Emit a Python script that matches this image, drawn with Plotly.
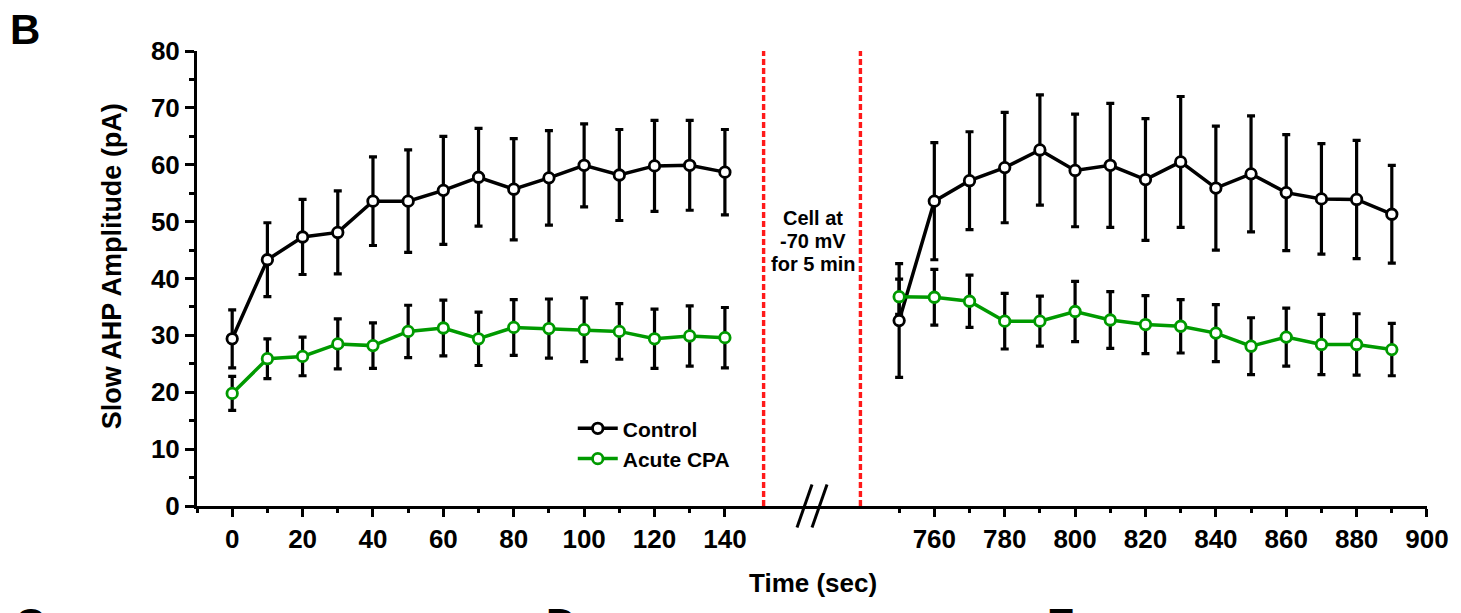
import plotly.graph_objects as go

# ---------------- data ----------------
t_left = [0, 10, 20, 30, 40, 50, 60, 70, 80, 90, 100, 110, 120, 130, 140]
ctrl_left = [29.4, 43.3, 47.3, 48.1, 53.6, 53.6, 55.5, 57.8, 55.7, 57.7, 59.9, 58.2, 59.8, 59.9, 58.7]
ctrl_left_err = [5.1, 6.5, 6.6, 7.3, 7.8, 9.0, 9.5, 8.6, 8.9, 8.3, 7.3, 8.0, 8.0, 7.9, 7.5]
cpa_left = [19.8, 25.9, 26.3, 28.5, 28.2, 30.7, 31.3, 29.4, 31.4, 31.2, 31.0, 30.7, 29.4, 29.9, 29.6]
cpa_left_err = [3.0, 3.5, 3.4, 4.4, 4.0, 4.6, 4.9, 4.7, 4.9, 5.2, 5.6, 4.9, 5.2, 5.3, 5.3]

t_right = [750, 760, 770, 780, 790, 800, 810, 820, 830, 840, 850, 860, 870, 880, 890]
ctrl_right = [32.6, 53.6, 57.2, 59.5, 62.6, 59.0, 59.9, 57.4, 60.5, 55.9, 58.4, 55.1, 54.0, 53.9, 51.3]
ctrl_right_err = [10.0, 10.3, 8.6, 9.7, 9.7, 9.9, 10.9, 10.7, 11.5, 10.9, 10.2, 10.2, 9.7, 10.4, 8.6]
cpa_right = [36.8, 36.7, 36.0, 32.5, 32.5, 34.2, 32.7, 31.9, 31.6, 30.4, 28.1, 29.7, 28.4, 28.4, 27.5]
cpa_right_err = [3.1, 4.9, 4.6, 4.9, 4.4, 5.3, 5.0, 5.1, 4.7, 5.0, 5.0, 5.1, 5.3, 5.4, 4.6]

x_ticks_left = [0, 20, 40, 60, 80, 100, 120, 140]
x_minor_left = [-10, 10, 30, 50, 70, 90, 110, 130]
x_ticks_right = [760, 780, 800, 820, 840, 860, 880, 900]
x_minor_right = [750, 770, 790, 810, 830, 850, 870, 890]
y_ticks = [0, 10, 20, 30, 40, 50, 60, 70, 80]

series_names = ["Control", "Acute CPA"]
hold_start = 151   # left red line (sec)
hold_end = 739     # right red line (sec)
hold_label = ["Cell at", "-70 mV", "for 5 min"]

# ---------------- style ----------------
FONT = "Liberation Sans, Arial, sans-serif"
BLACK = "#000000"
GREEN = "#009A00"
RED = "#FF1A1A"

fig = go.Figure()


def add_series(x, y, err, color, name, xaxis, show):
    fig.add_trace(go.Scatter(
        x=x, y=y, xaxis=xaxis, yaxis="y",
        mode="lines+markers", name=name, legendgroup=name, showlegend=show,
        line=dict(color=color, width=3.5),
        marker=dict(symbol="circle", size=10.5, color="white",
                    line=dict(color=color, width=2.8)),
        error_y=dict(type="data", array=err, visible=True, color=BLACK,
                     thickness=3.2, width=4),
        cliponaxis=False,
    ))


add_series(t_left, ctrl_left, ctrl_left_err, BLACK, series_names[0], "x", True)
add_series(t_left, cpa_left, cpa_left_err, GREEN, series_names[1], "x", True)
add_series(t_right, ctrl_right, ctrl_right_err, BLACK, series_names[0], "x2", False)
add_series(t_right, cpa_right, cpa_right_err, GREEN, series_names[1], "x2", False)

BREAK = 0.4992
tickfont = dict(family=FONT, size=26, color=BLACK, weight="bold")

common_x = dict(showline=True, linecolor=BLACK, linewidth=3, showgrid=False,
                zeroline=False, ticks="outside", ticklen=8, tickwidth=3,
                tickcolor=BLACK, tickfont=tickfont, anchor="y",
                fixedrange=True)

fig.update_layout(
    width=1461, height=613,
    margin=dict(l=197, r=32, t=51, b=107),
    paper_bgcolor="white", plot_bgcolor="white",
    xaxis=dict(domain=[0, BREAK], range=[-10, 164.47], tickmode="array",
               tickvals=x_ticks_left,
               minor=dict(tickmode="array", tickvals=x_minor_left, ticks="outside",
                          ticklen=4, tickwidth=3, tickcolor=BLACK),
               **common_x),
    xaxis2=dict(domain=[BREAK, 1], range=[724.96, 900], tickmode="array",
                tickvals=x_ticks_right,
                minor=dict(tickmode="array", tickvals=x_minor_right, ticks="outside",
                           ticklen=4, tickwidth=3, tickcolor=BLACK),
                **common_x),
    yaxis=dict(range=[0, 80], tickmode="array", tickvals=y_ticks,
               showline=True, linecolor=BLACK, linewidth=3, showgrid=False,
               zeroline=False, ticks="outside", ticklen=9, tickwidth=3,
               tickcolor=BLACK, tickfont=tickfont, anchor="x",
               minor=dict(dtick=5, ticks="outside", ticklen=5, tickwidth=3,
                          tickcolor=BLACK),
               fixedrange=True),
    showlegend=True,
    legend=dict(x=0.3055, y=0.215, xanchor="left", yanchor="top",
                bgcolor="rgba(0,0,0,0)", borderwidth=0,
                font=dict(family=FONT, size=21, color=BLACK, weight="bold"),
                tracegroupgap=0, itemwidth=40),
)

# red dashed lines marking the hold period
for xref, xv in (("x", hold_start), ("x2", hold_end)):
    fig.add_shape(type="line", xref=xref, yref="y", x0=xv, x1=xv, y0=0, y1=80,
                  line=dict(color=RED, width=3.4, dash="6px,3px"))

# axis break marks "//"
for dx in (-14, 1):
    fig.add_shape(type="line", xref="paper", yref="paper",
                  xsizemode="pixel", ysizemode="pixel", xanchor=BREAK, yanchor=0,
                  x0=dx, x1=dx + 15, y0=-21.5, y1=21.5,
                  line=dict(color=BLACK, width=3))

# hold-period label
PLOT_TOP, PLOT_H = 51, 455
def py(pix):
    return (PLOT_TOP + PLOT_H - pix) / PLOT_H

def px(pix):
    return (pix - 197) / 1232

for i, (txt, ypix) in enumerate(zip(hold_label, (218, 241, 264))):
    fig.add_annotation(text=txt, xref="paper", yref="paper", x=px(814), y=py(ypix),
                       xanchor="center", yanchor="middle", showarrow=False,
                       font=dict(family=FONT, size=20, color=BLACK, weight="bold"))

# axis titles
fig.add_annotation(text="Time (sec)", xref="paper", yref="paper", x=px(814), y=py(583),
                   xanchor="center", yanchor="middle", showarrow=False,
                   font=dict(family=FONT, size=26, color=BLACK, weight="bold"))
fig.add_annotation(text="Slow AHP Amplitude (pA)", xref="paper", yref="paper",
                   x=px(112), y=py(266), xanchor="center", yanchor="middle",
                   textangle=-90, showarrow=False,
                   font=dict(family=FONT, size=27, color=BLACK, weight="bold"))

# panel letters (the row below is cut by the page edge, as in the source figure)
fig.add_annotation(text="B", xref="paper", yref="paper", x=px(25), y=py(30),
                   xanchor="center", yanchor="middle", showarrow=False,
                   font=dict(family=FONT, size=42, color=BLACK, weight="bold"))
for letter, xpix in (("C", 30), ("D", 562), ("E", 1062)):
    fig.add_annotation(text=letter, xref="paper", yref="paper", x=px(xpix), y=py(598),
                       xanchor="center", yanchor="top", showarrow=False,
                       font=dict(family=FONT, size=42, color=BLACK, weight="bold"))

fig.write_html("out.html")
